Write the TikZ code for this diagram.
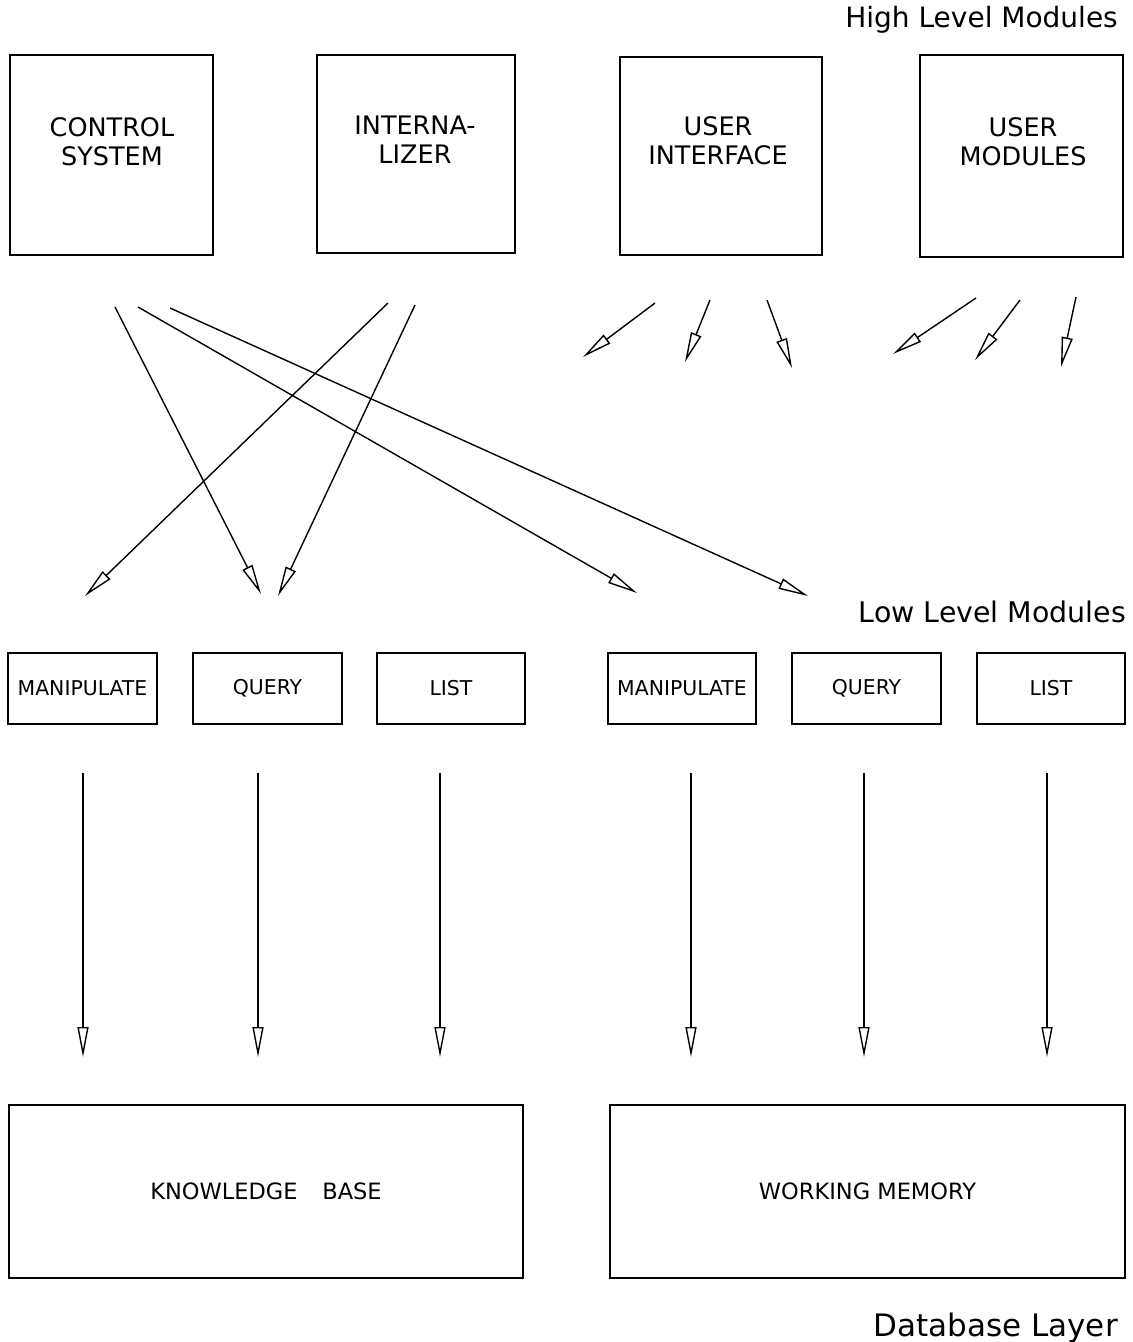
\documentclass[tikz,border=0pt]{standalone}
\usepackage{fontspec}
\setmainfont{DejaVu Sans}
\usetikzlibrary{arrows.meta}
\tikzset{
  x=1pt,y=-1pt,
  tip/.style={line width=1.4pt,-{Triangle[open,length=30pt,width=11pt,line width=1.4pt]}},
  box/.style={draw,line width=1.5pt,inner sep=0pt},
  hitext/.style={inner sep=0pt,align=center,font=\fontsize{25.5}{29}\selectfont},
  lobox/.style={draw,line width=1.5pt,inner sep=0pt,align=center,font=\fontsize{20.4}{22}\selectfont},
  dbbox/.style={draw,line width=1.5pt,inner sep=0pt,align=center,font=\fontsize{22.5}{26}\selectfont},
  lbl/.style={inner sep=0pt},
}
\begin{document}
\begin{tikzpicture}
\useasboundingbox (0,0) rectangle (1133,1342);
% high level boxes
\node[box,minimum width=203pt,minimum height=200pt] (cs) at (111.5,155) {};
\node[box,minimum width=198pt,minimum height=198pt] (in) at (416,154) {};
\node[box,minimum width=202pt,minimum height=198pt] (ui) at (721,156) {};
\node[box,minimum width=203pt,minimum height=202pt] (um) at (1021.5,156) {};
\node[hitext] (cst) at (112,142) {CONTROL\\SYSTEM};
\node[hitext] (int) at (415,140) {INTERNA-\\LIZER};
\node[hitext] (uit) at (718,141) {USER\\INTERFACE};
\node[hitext] (umt) at (1023,142) {USER\\MODULES};
% low level boxes
\node[lobox,minimum width=149pt,minimum height=71pt] (m1) at (82.5,688.5) {MANIPULATE};
\node[lobox,minimum width=149pt,minimum height=71pt] (q1) at (267.5,688.5) {QUERY};
\node[lobox,minimum width=148pt,minimum height=71pt] (l1) at (451,688.5) {LIST};
\node[lobox,minimum width=148pt,minimum height=71pt] (m2) at (682,688.5) {MANIPULATE};
\node[lobox,minimum width=149pt,minimum height=71pt] (q2) at (866.5,688.5) {QUERY};
\node[lobox,minimum width=148pt,minimum height=71pt] (l2) at (1051,688.5) {LIST};
% database boxes
\node[dbbox,minimum width=514pt,minimum height=173pt] (kb) at (266,1191.5) {KNOWLEDGE\hspace{1.1em}BASE};
\node[dbbox,minimum width=515pt,minimum height=173pt] (wm) at (867.5,1191.5) {WORKING MEMORY};
% layer labels
\node[lbl,anchor=east,font=\fontsize{28}{32}\selectfont] (hl) at (1118,20) {High Level Modules};
\node[lbl,anchor=east,font=\fontsize{28.4}{32}\selectfont] (ll) at (1126,612) {Low Level Modules};
\node[lbl,anchor=east,font=\fontsize{31}{34}\selectfont] (dl) at (1118,1328) {Database Layer};
% arrow coordinates
\coordinate (a1s) at (115,307);  \coordinate (a1e) at (261,594);
\coordinate (a2s) at (138,307);  \coordinate (a2e) at (637,593);
\coordinate (a3s) at (170,308);  \coordinate (a3e) at (808,596);
\coordinate (b1s) at (388,303);  \coordinate (b1e) at (85,596);
\coordinate (b2s) at (415,305);  \coordinate (b2e) at (278,596);
\coordinate (c1s) at (655,303);  \coordinate (c1e) at (583,357);
\coordinate (c2s) at (710,300);  \coordinate (c2e) at (685,362);
\coordinate (c3s) at (767,300);  \coordinate (c3e) at (792,368);
\coordinate (d1s) at (976,298);  \coordinate (d1e) at (893,354);
\coordinate (d2s) at (1020,300); \coordinate (d2e) at (975,360);
\coordinate (d3s) at (1076,297); \coordinate (d3e) at (1061,367);
\foreach \n in {a1,a2,a3,b1,b2,c1,c2,c3,d1,d2,d3}
  \draw[tip] (\n s) -- (\n e);
% vertical arrows
\foreach \n/\x in {v1/83,v2/258,v3/440,v4/691,v5/864,v6/1047}{
  \coordinate (\n s) at (\x,773);
  \coordinate (\n e) at (\x,1057);
  \draw[tip] (\n s) -- (\n e);
}
\end{tikzpicture}
\end{document}
